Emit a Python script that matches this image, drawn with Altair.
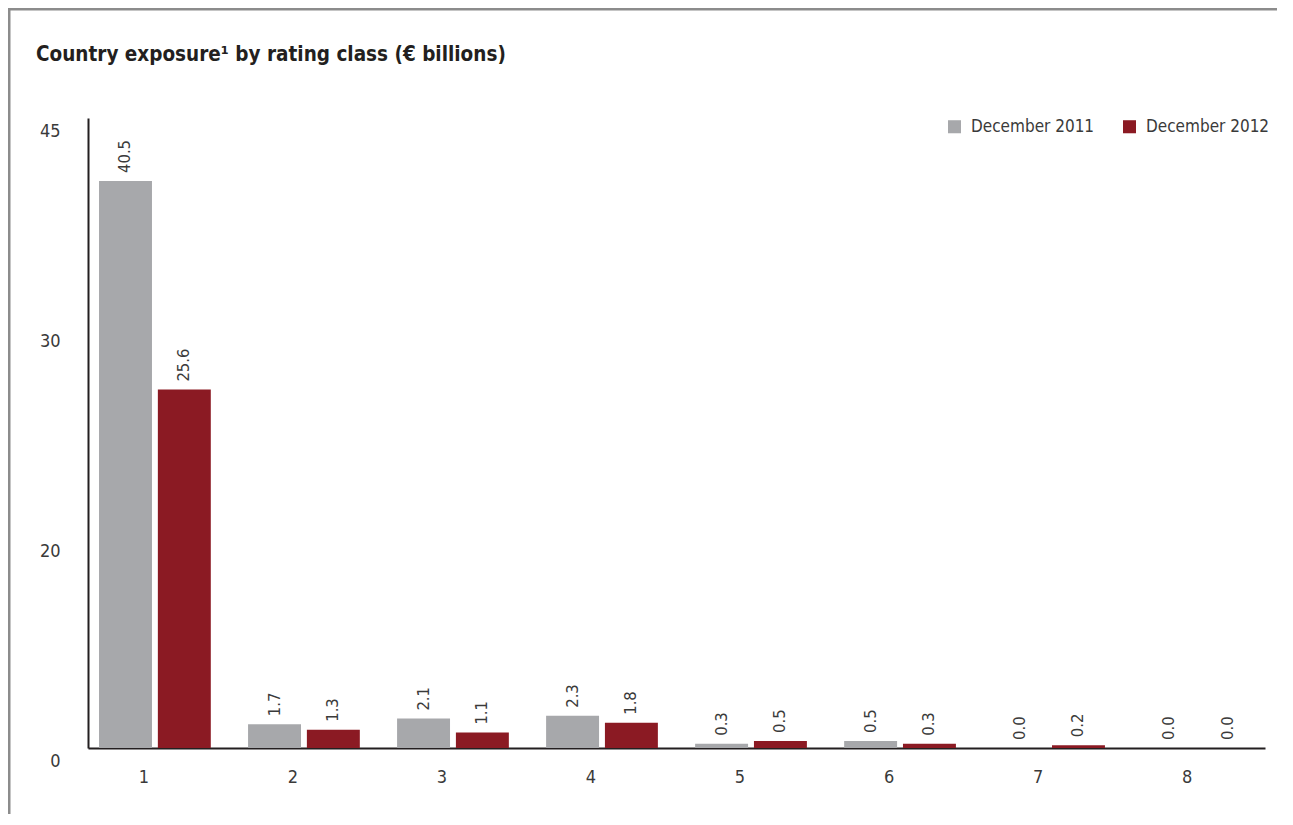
import altair as alt
import pandas as pd

classes = ["1", "2", "3", "4", "5", "6", "7", "8"]
series_names = ["December 2011", "December  2012"]
dec2011 = [40.5, 1.7, 2.1, 2.3, 0.3, 0.5, 0.0, 0.0]
dec2012 = [25.6, 1.3, 1.1, 1.8, 0.5, 0.3, 0.2, 0.0]
y_tick_values = [0, 15, 30, 45]
y_tick_labels = ["0", "20", "30", "45"]
colors = ["#a7a8ab", "#8b1a23"]
title_text = "Country exposure¹ by rating class (€ billions)"

rows = []
for c, a, b in zip(classes, dec2011, dec2012):
    rows.append({"cls": c, "series": series_names[0], "value": a})
    rows.append({"cls": c, "series": series_names[1], "value": b})
df = pd.DataFrame(rows)

FONT = "DejaVu Sans Condensed, Liberation Sans, sans-serif"
TXT = "#3a3a3a"
W, H = 1177, 630

label_expr = " : ".join(
    [f"datum.value == {v} ? '{t}'" for v, t in zip(y_tick_values, y_tick_labels)]
) + " : ''"

x_enc = alt.X("cls:N", sort=classes,
              scale=alt.Scale(paddingInner=0.25, paddingOuter=0.074),
              axis=alt.Axis(title=None, labelAngle=0, ticks=False, domainColor="#231f20",
                            domainWidth=2, labelFont=FONT, labelFontSize=18, labelColor=TXT,
                            labelPadding=20, labelOffset=-11))
xoff = alt.XOffset("series:N", sort=series_names, scale=alt.Scale(paddingInner=0.1))
y_enc = alt.Y("value:Q", scale=alt.Scale(domain=[0, 45], nice=False, zero=True),
              axis=alt.Axis(title=None, values=y_tick_values, labelExpr=label_expr, ticks=False,
                            grid=False, domainColor="#231f20", domainWidth=2, labelFont=FONT,
                            labelFontSize=18, labelColor=TXT, labelPadding=28, labelOffset=13))

base = alt.Chart(df)
bars = base.mark_bar().encode(
    x=x_enc, xOffset=xoff, y=y_enc,
    color=alt.Color("series:N", sort=series_names,
                    scale=alt.Scale(domain=series_names, range=colors),
                    legend=alt.Legend(title=None, orient="none", legendX=858, legendY=0,
                                      direction="horizontal",
                                      symbolType="square", symbolSize=170,
                                      symbolStrokeWidth=0, labelFont=FONT, labelFontSize=17,
                                      labelColor=TXT, labelOffset=8, columnPadding=26)),
)
labels = base.mark_text(angle=270, align="left", baseline="middle", dx=8, font=FONT,
                        fontSize=16.5, color=TXT).encode(
    x=alt.X("cls:N", sort=classes), xOffset=alt.XOffset("series:N", sort=series_names),
    y="value:Q", text=alt.Text("value:Q", format=".1f"),
)

one = alt.Chart(pd.DataFrame({"t": [title_text]}))
left_border = one.mark_rule(color="#8c8c8c", strokeWidth=3).encode(
    x=alt.value(-79), y=alt.value(-110), y2=alt.value(H + 80))
top_border = one.mark_rule(color="#8c8c8c", strokeWidth=3).encode(
    x=alt.value(-80), x2=alt.value(W + 40), y=alt.value(-109))
title = one.mark_text(align="left", baseline="alphabetic", font=FONT, fontSize=20.5,
                      fontWeight="bold", color="#231f20").encode(
    x=alt.value(-52), y=alt.value(-57), text="t:N")

chart = alt.layer(bars, labels, left_border, top_border, title).properties(
    width=W, height=H,
    autosize=alt.AutoSizeParams(type="none"),
    padding={"left": 80, "top": 110, "right": 12, "bottom": 66},
).configure(background="white").configure_view(stroke=None)

chart.save("out.html", embed_options={"renderer": "svg", "actions": False})
